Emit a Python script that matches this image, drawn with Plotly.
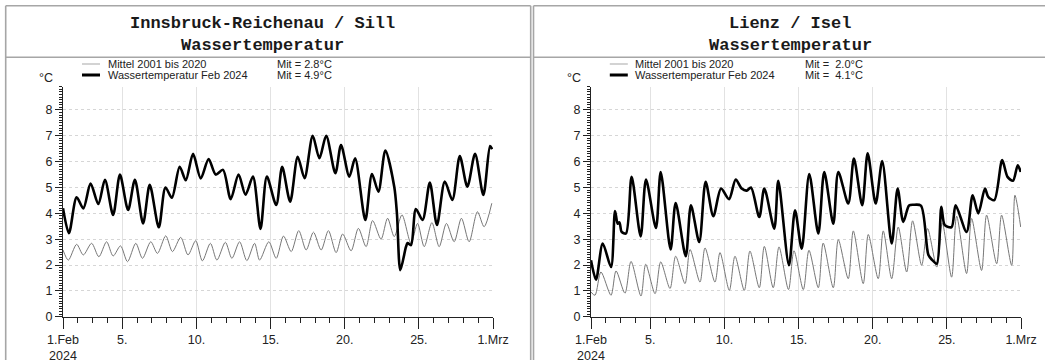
import numpy as np
import pandas as pd
import plotly.graph_objects as go

W, H = 1045, 360

# ---------------- data ----------------
stations = ["Innsbruck-Reichenau / Sill", "Lienz / Isel"]
subtitle = "Wassertemperatur"
series_names = ["Mittel 2001 bis 2020", "Wassertemperatur Feb 2024"]
mean_text_ibk = ["Mit = 2.8°C", "Mit = 4.9°C"]
mean_text_lienz = ["Mit =\u00a0 2.0°C", "Mit =\u00a0 4.1°C"]
y_unit = "°C"
x_tick_dates = ["2024-02-01", "2024-02-05", "2024-02-10", "2024-02-15",
                "2024-02-20", "2024-02-25", "2024-03-01"]
x_tick_text = ["1.Feb<br>2024", "5.", "10.", "15.", "20.", "25.", "1.Mrz"]
y_tick_vals = [0, 1, 2, 3, 4, 5, 6, 7, 8]

# days since 1 Feb 2024 00:00 / temperature in °C
ibk_mean_day = [0.00, 0.36, 0.92, 1.37, 1.93, 2.42, 2.94, 3.38, 3.88, 4.35, 4.91, 5.36,
                5.92, 6.37, 6.93, 7.38, 7.94, 8.43, 8.95, 9.40, 9.94, 10.38, 10.95, 11.39,
                11.91, 12.40, 12.92, 13.26, 13.88, 14.38, 14.87, 15.39, 15.90, 16.40, 16.89,
                17.41, 17.90, 18.42, 18.86, 19.43, 19.92, 20.44, 20.88, 21.45, 21.89, 22.34,
                22.86, 23.47, 23.91, 24.36, 24.88, 25.37, 25.86, 26.38, 26.87, 27.39, 27.95,
                28.40, 28.92]
ibk_mean_val = [2.58, 2.19, 2.80, 2.39, 2.84, 2.32, 2.90, 2.35, 2.74, 2.13, 2.84, 2.26,
                2.90, 2.45, 3.13, 2.52, 3.07, 2.39, 2.94, 2.16, 2.84, 2.19, 2.88, 2.26,
                2.90, 2.17, 2.84, 2.19, 2.90, 2.26, 3.12, 2.52, 3.33, 2.58, 3.27,
                2.58, 3.33, 2.48, 3.20, 2.55, 3.42, 2.71, 3.72, 3.00, 3.81, 3.10,
                3.94, 2.84, 3.61, 2.71, 3.64, 2.71, 3.61, 2.90, 3.81, 2.90, 4.06,
                3.48, 4.39]

ibk_2024_day = [0.00, 0.40, 0.92, 1.37, 1.86, 2.38, 2.83, 3.38, 3.84, 4.39, 4.85, 5.40,
                5.85, 6.46, 6.91, 7.34, 7.87, 8.28, 8.77, 9.29, 9.82, 10.30, 10.79, 11.31,
                11.84, 12.31, 12.81, 13.32, 13.75, 14.38, 14.78, 15.32, 15.83, 16.29, 16.84,
                17.29, 17.75, 18.37, 18.75, 19.31, 19.70, 20.39, 20.84, 21.27, 21.74, 22.34,
                22.52, 22.75, 23.13, 23.24, 23.47, 23.80, 24.25, 24.74, 25.22, 25.75, 26.26,
                26.76, 27.27, 27.79, 28.35, 28.80, 28.94]
ibk_2024_val = [4.20, 3.23, 4.62, 4.19, 5.15, 4.36, 5.30, 3.94, 5.50, 4.13, 5.30, 3.61,
                5.10, 3.46, 5.00, 4.60, 5.80, 5.28, 6.30, 5.35, 6.10, 5.50, 5.68, 4.55,
                5.50, 4.72, 5.42, 3.40, 5.42, 4.32, 5.80, 4.45, 6.19, 5.36, 7.00,
                6.13, 7.00, 5.55, 6.64, 5.42, 6.13, 3.74, 5.52, 4.84, 6.43, 5.03,
                4.00, 1.80, 2.70, 2.85, 2.77, 4.17, 3.74, 5.19, 3.55, 5.23, 4.52,
                6.22, 5.03, 6.30, 4.71, 6.60, 6.48]

lienz_mean_day = [0.00, 0.27, 0.67, 1.35, 1.69, 2.29, 2.70, 3.37, 3.69, 4.32, 4.70, 5.33,
                  5.71, 6.34, 6.68, 7.35, 7.69, 8.36, 8.70, 9.33, 9.71, 10.34, 10.72, 11.35,
                  11.69, 12.29, 12.68, 13.32, 13.69, 14.32, 14.70, 15.33, 15.66, 16.34, 16.68,
                  17.35, 17.69, 18.36, 18.70, 19.37, 19.71, 20.28, 20.72, 21.29, 21.69, 22.30,
                  22.70, 23.32, 23.69, 24.32, 24.66, 25.33, 25.67, 26.34, 26.68, 27.36, 27.69,
                  28.37, 28.59, 28.98]
lienz_mean_val = [0.95, 0.83, 1.73, 0.83, 1.77, 0.91, 2.14, 0.80, 2.03, 0.89, 2.12, 1.09,
                  2.34, 1.28, 2.60, 1.34, 2.66, 1.34, 2.48, 1.02, 2.34, 1.02, 2.54, 1.12,
                  2.72, 1.12, 2.70, 1.05, 2.55, 1.05, 2.57, 1.12, 2.85, 1.12, 2.98,
                  1.47, 3.32, 1.28, 3.18, 1.47, 3.32, 1.47, 3.47, 1.73, 3.71, 1.99,
                  3.41, 1.92, 3.63, 1.53, 3.89, 1.67, 3.80, 1.79, 3.93, 2.05, 3.93,
                  1.99, 4.70, 3.47]

lienz_2024_day = [0.00, 0.34, 0.79, 1.35, 1.62, 1.80, 1.92, 2.07, 2.36, 2.74, 3.35, 3.71,
                  4.38, 4.70, 5.37, 5.71, 6.39, 6.74, 7.30, 7.73, 8.25, 8.77, 9.31, 9.76,
                  10.16, 10.50, 10.79, 11.35, 11.69, 12.36, 12.63, 13.35, 13.76, 14.21, 14.72,
                  15.33, 15.73, 16.34, 16.68, 17.35, 17.73, 18.29, 18.66, 19.20, 19.64, 20.28,
                  20.68, 21.06, 21.45, 21.73, 22.25, 22.75, 23.00, 23.32, 23.63, 23.86, 24.32,
                  24.59, 25.33, 25.74, 26.12, 26.57, 26.79, 27.20, 27.73, 28.09, 28.46, 28.78,
                  28.98]
lienz_2024_val = [2.18, 1.43, 2.83, 1.92, 4.09, 3.60, 3.65, 3.28, 3.22, 5.41, 3.11, 5.31,
                  3.43, 5.60, 2.60, 4.40, 2.34, 4.31, 2.89, 5.22, 3.89, 4.96, 4.55, 5.31,
                  4.96, 4.88, 5.00, 3.86, 4.96, 3.41, 5.26, 1.99, 4.12, 2.63, 5.52,
                  3.22, 5.60, 3.60, 5.60, 4.38, 6.12, 4.31, 6.32, 4.38, 6.02, 2.83,
                  4.96, 3.67, 4.30, 4.33, 4.30, 2.40, 2.20, 2.05, 4.25, 3.54, 3.47,
                  4.31, 3.28, 4.70, 4.00, 4.96, 4.64, 4.51, 6.06, 5.41, 5.26, 5.86,
                  5.60]


def to_dates(days):
    return pd.Timestamp("2024-02-01") + pd.to_timedelta(np.asarray(days), unit="D")


# ---------------- layout helpers (window pixel -> paper) ----------------
def px(x):
    return x / W


def py(y):
    return 1 - y / H


FONT = "Liberation Sans, Arial, sans-serif"
MONO = "Liberation Mono, Courier New, monospace"
GRAY = "#777777"
FRAME = "#a6a6a6"

fig = go.Figure()

panels = [
    dict(xa="x", ya="y", mean=(ibk_mean_day, ibk_mean_val), cur=(ibk_2024_day, ibk_2024_val)),
    dict(xa="x2", ya="y2", mean=(lienz_mean_day, lienz_mean_val), cur=(lienz_2024_day, lienz_2024_val)),
]
for p in panels:
    d, v = p["mean"]
    fig.add_trace(go.Scatter(x=to_dates(d), y=v, mode="lines", name=series_names[0],
                             line=dict(color=GRAY, width=1, shape="spline", smoothing=0.8),
                             xaxis=p["xa"], yaxis=p["ya"], showlegend=False, hoverinfo="skip"))
    d, v = p["cur"]
    fig.add_trace(go.Scatter(x=to_dates(d), y=v, mode="lines", name=series_names[1],
                             line=dict(color="black", width=2.6, shape="spline", smoothing=0.8),
                             xaxis=p["xa"], yaxis=p["ya"], showlegend=False, hoverinfo="skip"))

tickfont = dict(family=FONT, size=12.5, color="#222222")


def xaxis_cfg(dom, anchor):
    return dict(domain=dom, anchor=anchor, type="date",
                range=[x_tick_dates[0], x_tick_dates[-1]],
                tickmode="array", tickvals=x_tick_dates, ticktext=x_tick_text,
                ticks="outside", ticklen=11, tickwidth=1, tickcolor="#222222",
                showline=True, linecolor="#222222", linewidth=1,
                showgrid=True, gridcolor="#e2e2e2", gridwidth=1,
                zeroline=False, tickfont=tickfont, fixedrange=True, automargin=False,
                minor=dict(ticks="outside", ticklen=5, tickwidth=1, tickcolor="#222222",
                           dtick=86400000, tick0=x_tick_dates[0], showgrid=False))


def yaxis_cfg(anchor):
    return dict(domain=[py(316.7), py(86.7)], anchor=anchor, range=[0, 8.9],
                tickmode="array", tickvals=y_tick_vals,
                ticks="outside", ticklen=7, tickwidth=1, tickcolor="#222222",
                showline=True, linecolor="#222222", linewidth=1,
                showgrid=True, gridcolor="#d6d6d6", gridwidth=1, griddash="dot",
                zeroline=False, tickfont=tickfont, fixedrange=True, automargin=False,
                minor=dict(ticks="outside", ticklen=3, tickwidth=1, tickcolor="#222222",
                           dtick=0.1, tick0=0, showgrid=False))


fig.update_layout(
    width=W, height=H, margin=dict(l=0, r=0, t=0, b=0, autoexpand=False),
    paper_bgcolor="white", plot_bgcolor="white", showlegend=False,
    xaxis=xaxis_cfg([px(63), px(493)], "y"),
    yaxis=yaxis_cfg("x"),
    xaxis2=xaxis_cfg([px(591), px(1021)], "y2"),
    yaxis2=yaxis_cfg("x2"),
)

shapes = []
annotations = []
offsets = [0.0, 527.8]
means = [mean_text_ibk, mean_text_lienz]
for i, off in enumerate(offsets):
    left = 5.7 + off
    right = 530.7 + off
    # frame
    shapes.append(dict(type="line", xref="paper", yref="paper", x0=px(left), x1=px(left),
                       y0=py(5.7), y1=py(372), line=dict(color=FRAME, width=1.6)))
    shapes.append(dict(type="line", xref="paper", yref="paper", x0=px(left), x1=px(min(right, 1060)),
                       y0=py(5.7), y1=py(5.7), line=dict(color=FRAME, width=1.6)))
    shapes.append(dict(type="line", xref="paper", yref="paper", x0=px(left), x1=px(min(right, 1060)),
                       y0=py(57.3), y1=py(57.3), line=dict(color=FRAME, width=1.6)))
    if right < 1045:
        shapes.append(dict(type="line", xref="paper", yref="paper", x0=px(right), x1=px(right),
                           y0=py(5.7), y1=py(372), line=dict(color=FRAME, width=1.6)))
    # titles
    cx = 262.5 + off
    annotations.append(dict(xref="paper", yref="paper", x=px(cx), y=py(23.5), text=stations[i],
                            showarrow=False, xanchor="center", yanchor="middle",
                            font=dict(family=MONO, size=17, color="#1a1a1a", weight="bold")))
    annotations.append(dict(xref="paper", yref="paper", x=px(cx), y=py(45.5), text=subtitle,
                            showarrow=False, xanchor="center", yanchor="middle",
                            font=dict(family=MONO, size=17, color="#1a1a1a", weight="bold")))
    # legend
    for j, (col, wid) in enumerate([("#b5b5b5", 1.2), ("black", 3)]):
        yy = 64 + 11 * j
        shapes.append(dict(type="line", xref="paper", yref="paper", x0=px(82 + off), x1=px(100 + off),
                           y0=py(yy), y1=py(yy), line=dict(color=col, width=wid)))
        annotations.append(dict(xref="paper", yref="paper", x=px(105.5 + off), y=py(yy),
                                text=series_names[j], showarrow=False, xanchor="left",
                                yanchor="middle", font=dict(family=FONT, size=11, color="#222222")))
        annotations.append(dict(xref="paper", yref="paper", x=px(275 + off), y=py(yy),
                                text=means[i][j], showarrow=False, xanchor="left",
                                yanchor="middle", font=dict(family=FONT, size=11, color="#222222")))
    # unit label
    annotations.append(dict(xref="paper", yref="paper", x=px(46 + off), y=py(78), text=y_unit,
                            showarrow=False, xanchor="center", yanchor="middle",
                            font=dict(family=FONT, size=12.5, color="#222222")))

fig.update_layout(shapes=shapes, annotations=annotations)
fig.write_html(
    "out.html",
    config={"displayModeBar": False, "staticPlot": True},
    post_script="document.body.style.margin='0';document.body.style.overflow='hidden';",
)
